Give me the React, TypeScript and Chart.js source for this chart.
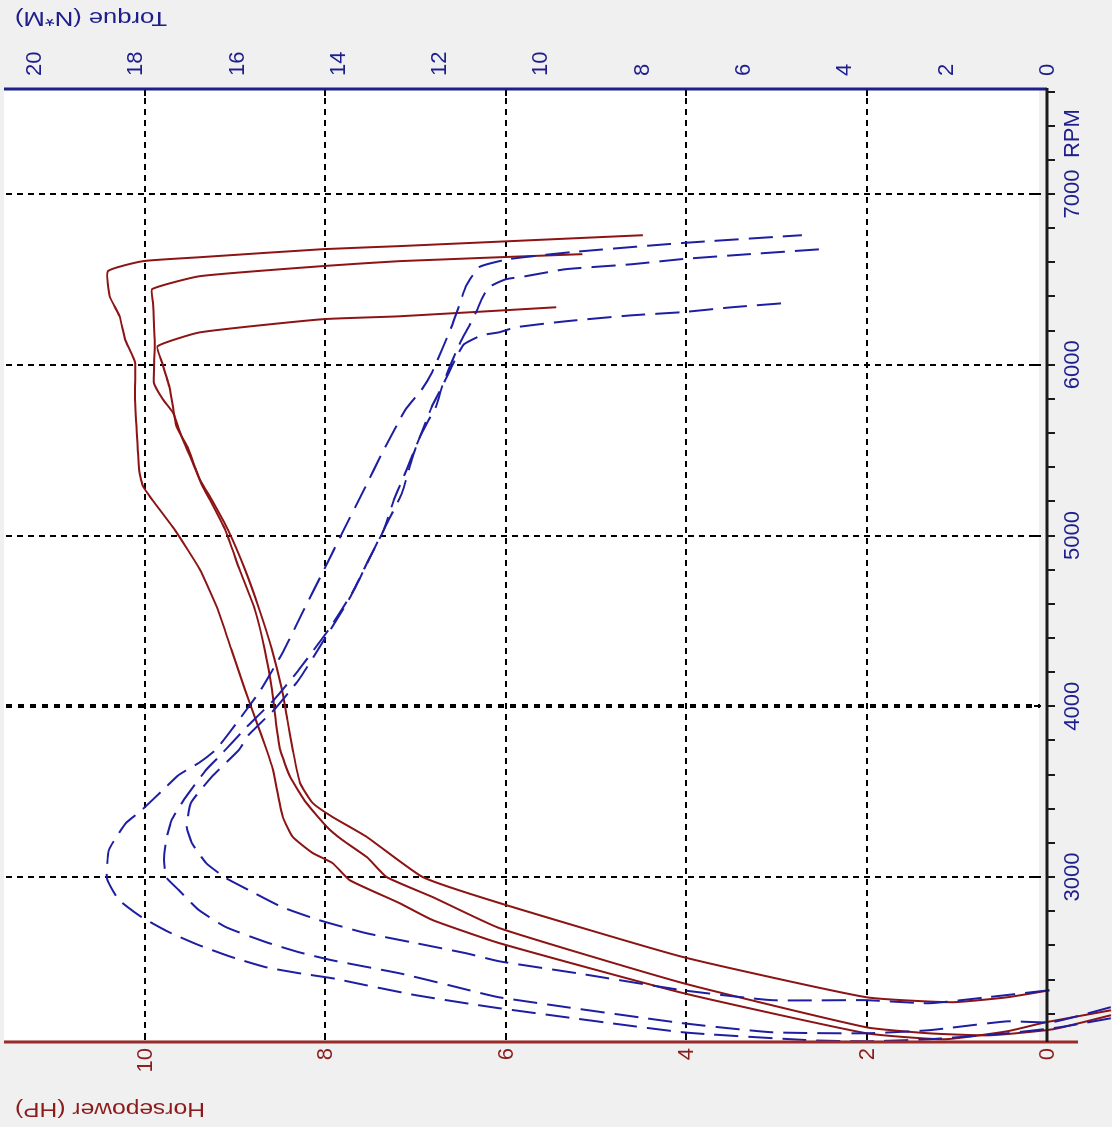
import React, { useEffect, useRef } from 'react';
import { Chart, registerables } from 'chart.js';

Chart.register(...registerables);

// Unrotated chart size (the whole chart is shown rotated 90deg counter-clockwise)
const CW = 1127;
const CH = 1112;

// Axis tick labels
const rpmTickValues = [3000, 4000, 5000, 6000, 7000];
const hpTickValues = [0, 2, 4, 6, 8, 10];
const hpGridValues = [2, 4, 6, 8, 10];
const torqueTickValues = [0, 2, 4, 6, 8, 10, 12, 14, 16, 18, 20];
const rpmUnit = 'RPM';
const hpTitle = 'Horsepower (HP)';
const torqueTitle = 'Torque (N*M)';

// Run 1
const run1HpRpm = [2220, 2150, 2097, 2050, 2085, 2320, 2613, 2748, 2848, 2982, 3082, 3141, 3235, 3352, 3628, 3745, 3921, 4097, 4331, 4566, 4801, 5035, 5211, 5287, 5369, 5604, 5798, 6015, 6149, 6284, 6402, 6548, 6607, 6630, 6677, 6695, 6759];
const run1Hp = [-0.71, 0.01, 0.44, 1.14, 2.0, 4.03, 6.07, 6.81, 7.18, 7.73, 7.92, 8.14, 8.36, 8.47, 8.58, 8.65, 8.77, 8.89, 9.04, 9.19, 9.39, 9.67, 9.92, 10.02, 10.06, 10.09, 10.11, 10.11, 10.22, 10.28, 10.39, 10.41, 10.02, 9.39, 8.03, 7.18, 4.48];
const run1TqRpm = [2173, 2120, 2085, 2050, 2038, 2044, 2091, 2232, 2261, 2308, 2367, 2408, 2437, 2472, 2531, 2601, 2677, 2765, 2865, 2941, 3000, 3158, 3258, 3317, 3393, 3528, 3598, 3669, 3745, 3921, 4097, 4331, 4566, 4801, 5035, 5270, 5504, 5739, 5856, 5956, 6091, 6226, 6343, 6460, 6572, 6619, 6660, 6713, 6759];
const run1Tq = [-1.26, -0.24, 0.79, 2.33, 3.57, 4.66, 7.19, 10.82, 11.47, 12.46, 13.45, 14.12, 14.77, 15.42, 16.09, 16.74, 17.33, 17.87, 18.32, 18.48, 18.56, 18.52, 18.32, 18.18, 17.87, 17.39, 17.14, 16.74, 16.41, 15.95, 15.52, 15.06, 14.67, 14.27, 13.88, 13.48, 13.09, 12.66, 12.34, 12.14, 11.94, 11.75, 11.61, 11.47, 11.21, 10.62, 9.38, 7.21, 4.84];

// Run 2
const run2HpRpm = [2191, 2120, 2103, 2073, 2085, 2120, 2378, 2701, 2883, 3000, 3117, 3217, 3293, 3434, 3587, 3745, 3921, 4097, 4331, 4566, 4801, 5035, 5211, 5287, 5428, 5604, 5721, 5798, 5897, 6108, 6366, 6443, 6519, 6578, 6607, 6648];
const run2Hp = [-0.71, -0.17, 0.01, 0.66, 1.31, 2.0, 4.03, 6.07, 6.81, 7.32, 7.54, 7.81, 7.98, 8.21, 8.39, 8.5, 8.55, 8.59, 8.67, 8.78, 8.95, 9.11, 9.28, 9.36, 9.47, 9.61, 9.69, 9.8, 9.9, 9.89, 9.91, 9.92, 9.39, 8.03, 7.18, 5.15];
const run2TqRpm = [2238, 2150, 2155, 2103, 2085, 2091, 2144, 2296, 2367, 2437, 2513, 2560, 2619, 2707, 2806, 2924, 3000, 3100, 3217, 3334, 3469, 3628, 3704, 3891, 4038, 4214, 4449, 4683, 4918, 5094, 5252, 5446, 5563, 5680, 5757, 5874, 5974, 6073, 6149, 6226, 6308, 6384, 6454, 6501, 6519, 6560, 6589, 6619, 6648, 6677];
const run2Tq = [-1.26, -0.1, 0.79, 2.33, 3.57, 5.43, 7.19, 10.82, 11.81, 12.79, 14.12, 14.77, 15.42, 16.21, 16.74, 17.14, 17.39, 17.43, 17.39, 17.28, 17.0, 16.6, 16.35, 15.76, 15.26, 14.77, 14.18, 13.68, 13.29, 12.99, 12.73, 12.54, 12.4, 12.2, 12.06, 11.94, 11.81, 11.67, 11.55, 11.41, 11.27, 11.16, 11.02, 10.68, 10.29, 9.5, 8.19, 7.21, 5.88, 4.46];

// Run 3
const run3HpRpm = [2337, 2296, 2267, 2296, 2531, 2848, 3000, 3235, 3352, 3434, 3551, 3745, 3921, 4097, 4331, 4566, 4801, 5035, 5211, 5328, 5522, 5639, 5856, 6015, 6108, 6190, 6267, 6284, 6337];
const run3Hp = [-0.03, 0.44, 1.05, 2.0, 4.03, 6.07, 6.92, 7.54, 7.92, 8.14, 8.28, 8.36, 8.42, 8.48, 8.59, 8.73, 8.89, 9.08, 9.26, 9.39, 9.53, 9.65, 9.72, 9.81, 9.86, 9.39, 8.03, 7.18, 5.44];
const run3TqRpm = [2337, 2296, 2261, 2279, 2279, 2337, 2437, 2507, 2554, 2613, 2672, 2748, 2824, 2924, 2994, 3082, 3199, 3293, 3434, 3587, 3745, 3833, 3979, 4155, 4390, 4625, 4859, 5035, 5211, 5387, 5563, 5757, 5839, 5915, 5991, 6073, 6120, 6173, 6190, 6220, 6255, 6290, 6308, 6337, 6361];
const run3Tq = [-0.04, 1.18, 2.33, 3.57, 5.43, 7.19, 9.28, 10.82, 11.47, 12.46, 13.45, 14.37, 15.1, 15.76, 16.21, 16.6, 16.88, 16.98, 16.9, 16.49, 15.95, 15.76, 15.26, 14.77, 14.27, 13.78, 13.39, 13.09, 12.89, 12.64, 12.4, 12.14, 12.0, 11.87, 11.75, 11.61, 11.51, 11.16, 10.82, 10.48, 9.5, 8.19, 7.21, 6.22, 5.19];

const RED = '#8c1414';
const BLUE = '#1e1ea2';
const NAVY = '#1e1e8c';
const HP_RED = '#8b1c1c';
const FONT = '"Liberation Sans", Arial, sans-serif';

function pts(xs: number[], ys: number[]) {
  return xs.map((x, i) => ({ x, y: ys[i] }));
}

function drawVerticalTitle(ctx: CanvasRenderingContext2D, text: string, cx: number, yStart: number, length: number, color: string) {
  ctx.save();
  ctx.font = `21px ${FONT}`;
  ctx.fillStyle = color;
  ctx.translate(cx, yStart);
  ctx.rotate(-Math.PI / 2);
  const w = ctx.measureText(text).width;
  ctx.scale(length / w, 1);
  ctx.textAlign = 'left';
  ctx.textBaseline = 'middle';
  ctx.fillText(text, 0, 0);
  ctx.restore();
}

const dynoPlugin = {
  id: 'dynoFrame',
  beforeDraw(chart: any) {
    const ctx: CanvasRenderingContext2D = chart.ctx;
    const ca = chart.chartArea;
    ctx.save();
    ctx.fillStyle = '#f0f0f0';
    ctx.fillRect(0, 0, chart.width, chart.height);
    ctx.fillStyle = '#ffffff';
    ctx.fillRect(ca.left + 2, 4, ca.right - ca.left - 4, ca.bottom - 8 - 4);
    ctx.restore();
  },
  beforeDatasetsDraw(chart: any) {
    const ctx: CanvasRenderingContext2D = chart.ctx;
    const ca = chart.chartArea;
    const xs = chart.scales.x;
    const yh = chart.scales.yHP;
    ctx.save();
    ctx.strokeStyle = '#000000';
    // RPM grid lines
    rpmTickValues.forEach((v) => {
      const x = Math.round(xs.getPixelForValue(v));
      const bold = v === 4000;
      ctx.lineWidth = bold ? 4 : 2;
      ctx.setLineDash(bold ? [6, 6] : [6, 5]);
      ctx.beginPath();
      ctx.moveTo(x, 6);
      ctx.lineTo(x, ca.bottom - 7);
      ctx.stroke();
      ctx.setLineDash([]);
      ctx.lineWidth = 2;
      ctx.beginPath();
      ctx.moveTo(x, ca.bottom - 13);
      ctx.lineTo(x, ca.bottom - 6);
      ctx.stroke();
    });
    // HP grid lines
    hpGridValues.forEach((v) => {
      const y = Math.round(yh.getPixelForValue(v));
      ctx.lineWidth = 2;
      ctx.setLineDash([6, 5]);
      ctx.beginPath();
      ctx.moveTo(ca.left + 3, y);
      ctx.lineTo(ca.right - 3, y);
      ctx.stroke();
      ctx.setLineDash([]);
      ctx.beginPath();
      ctx.moveTo(ca.left + 2, y);
      ctx.lineTo(ca.left + 8, y);
      ctx.moveTo(ca.right - 8, y);
      ctx.lineTo(ca.right - 2, y);
      ctx.stroke();
    });
    ctx.restore();
  },
  afterDatasetsDraw(chart: any) {
    const ctx: CanvasRenderingContext2D = chart.ctx;
    const ca = chart.chartArea;
    const xs = chart.scales.x;
    const yh = chart.scales.yHP;
    const yt = chart.scales.yT;
    ctx.save();
    ctx.setLineDash([]);
    // HP axis (left)
    ctx.strokeStyle = '#9b2a2a';
    ctx.lineWidth = 3;
    ctx.beginPath();
    ctx.moveTo(ca.left, 4);
    ctx.lineTo(ca.left, 1078);
    ctx.stroke();
    // Torque axis (right)
    ctx.strokeStyle = '#1e1e8c';
    ctx.beginPath();
    ctx.moveTo(ca.right - 1, 4);
    ctx.lineTo(ca.right - 1, ca.bottom);
    ctx.stroke();
    // RPM axis (bottom)
    ctx.strokeStyle = '#1a1a1a';
    ctx.beginPath();
    ctx.moveTo(ca.left, ca.bottom);
    ctx.lineTo(ca.right, ca.bottom);
    ctx.stroke();
    // RPM minor ticks every 200
    ctx.lineWidth = 2;
    const step = 200;
    for (let v = Math.ceil(xs.min / step) * step; v <= xs.max; v += step) {
      const x = Math.round(xs.getPixelForValue(v));
      ctx.beginPath();
      ctx.moveTo(x, ca.bottom);
      ctx.lineTo(x, ca.bottom + 8);
      ctx.stroke();
    }
    // RPM labels
    ctx.font = `22px ${FONT}`;
    ctx.fillStyle = NAVY;
    ctx.textAlign = 'center';
    ctx.textBaseline = 'alphabetic';
    rpmTickValues.forEach((v) => {
      ctx.fillText(String(v), xs.getPixelForValue(v), 1079);
    });
    ctx.textAlign = 'left';
    ctx.fillText(rpmUnit, xs.getPixelForValue(7000) + 36, 1079);
    // HP labels
    ctx.fillStyle = HP_RED;
    ctx.textAlign = 'right';
    ctx.textBaseline = 'middle';
    hpTickValues.forEach((v) => {
      ctx.fillText(String(v), 79, yh.getPixelForValue(v) + 1);
    });
    // Torque labels
    ctx.fillStyle = NAVY;
    ctx.textAlign = 'left';
    torqueTickValues.forEach((v) => {
      ctx.fillText(String(v), 1051, yt.getPixelForValue(v) + 1);
    });
    ctx.restore();
    // Titles
    drawVerticalTitle(ctx, hpTitle, 18, 205, 190, HP_RED);
    drawVerticalTitle(ctx, torqueTitle, 1109, 167, 152, NAVY);
  },
};

function lineDs(label: string, xs: number[], ys: number[], axis: string, color: string, dash: number[]) {
  return {
    label,
    data: pts(xs, ys),
    yAxisID: axis,
    borderColor: color,
    backgroundColor: color,
    borderWidth: 2,
    borderDash: dash,
    showLine: true,
    pointRadius: 0,
    pointHoverRadius: 0,
    tension: 0.15,
    clip: false as any,
  };
}

export default function App() {
  const ref = useRef<HTMLCanvasElement>(null);
  useEffect(() => {
    const canvas = ref.current;
    if (!canvas) return;
    const chart = new Chart(canvas, {
      type: 'scatter',
      data: {
        datasets: [
          lineDs('Torque run 1', run1TqRpm, run1Tq, 'yT', BLUE, [24, 10]),
          lineDs('Torque run 2', run2TqRpm, run2Tq, 'yT', BLUE, [24, 10]),
          lineDs('Torque run 3', run3TqRpm, run3Tq, 'yT', BLUE, [24, 10]),
          lineDs('HP run 1', run1HpRpm, run1Hp, 'yHP', RED, []),
          lineDs('HP run 2', run2HpRpm, run2Hp, 'yHP', RED, []),
          lineDs('HP run 3', run3HpRpm, run3Hp, 'yHP', RED, []),
        ] as any,
      },
      options: {
        responsive: false,
        animation: false,
        devicePixelRatio: 1,
        layout: { padding: { top: 5, left: 0, right: 0, bottom: 0 } },
        plugins: { legend: { display: false }, tooltip: { enabled: false } },
        events: [],
        scales: {
          x: {
            type: 'linear',
            position: 'bottom',
            min: 2034,
            max: 7621,
            ticks: { display: false },
            grid: { display: false },
            border: { display: false },
            afterFit: (s: any) => { s.height = 65; },
          },
          yHP: {
            type: 'linear',
            position: 'left',
            min: 0,
            max: 11.55,
            ticks: { display: false },
            grid: { display: false },
            border: { display: false },
            afterFit: (s: any) => { s.width = 85; },
          },
          yT: {
            type: 'linear',
            position: 'right',
            min: 0,
            max: 20.57,
            ticks: { display: false },
            grid: { display: false },
            border: { display: false },
            afterFit: (s: any) => { s.width = 88; },
          },
        } as any,
      },
      plugins: [dynoPlugin as any],
    });
    return () => chart.destroy();
  }, []);

  return (
    <div style={{ position: 'fixed', left: 0, top: 0, width: 1112, height: 1127, overflow: 'hidden', background: '#f0f0f0' }}>
      <div
        style={{
          position: 'absolute',
          left: 0,
          top: 0,
          width: CW,
          height: CH,
          transformOrigin: '0 0',
          transform: `translate(0px, ${CW}px) rotate(-90deg)`,
        }}
      >
        <canvas ref={ref} width={CW} height={CH} style={{ display: 'block', width: CW, height: CH }} />
      </div>
    </div>
  );
}
